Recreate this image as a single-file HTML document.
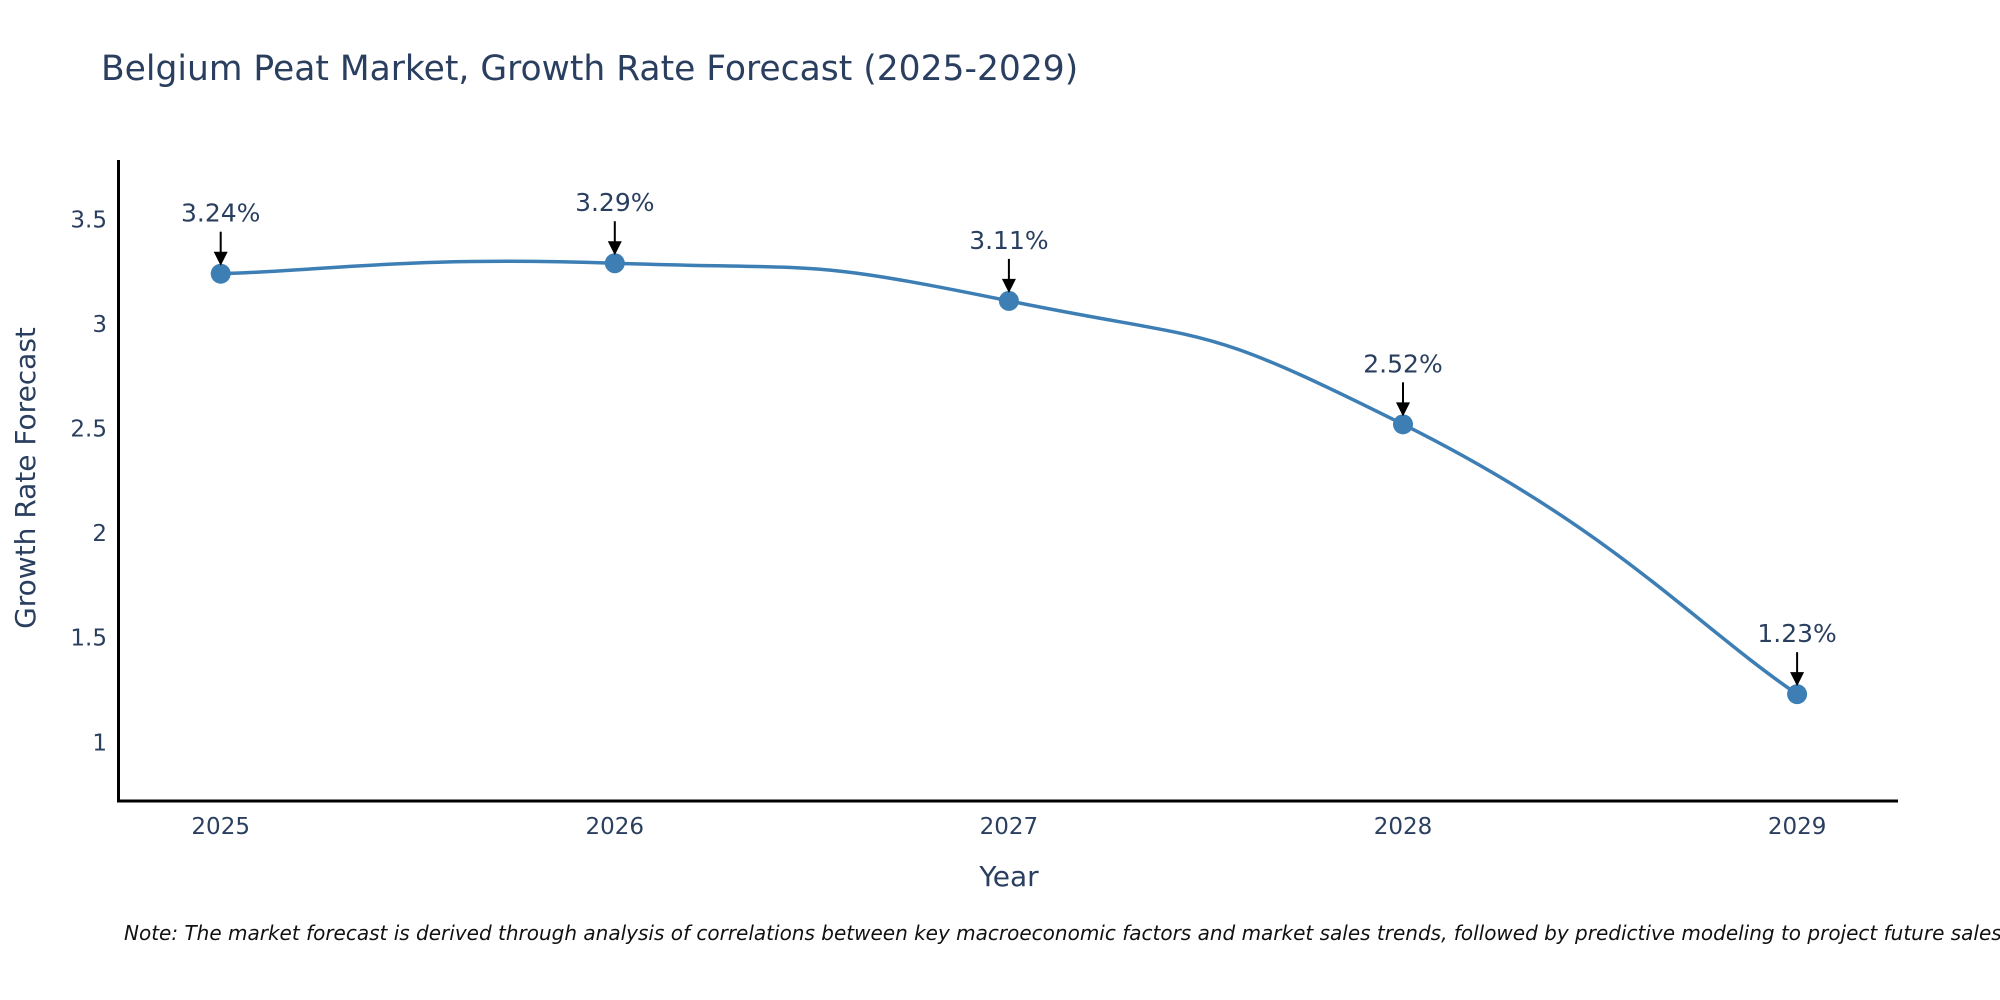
<!DOCTYPE html>
<html><head><meta charset="utf-8"><style>
body{margin:0;background:#fff;overflow:hidden;}
svg{display:block;font-family:"DejaVu Sans","Liberation Sans",sans-serif;}
</style></head><body>
<svg id="chart" width="2000" height="1000" viewBox="0 0 2000 1000">
<text x="101" y="80" font-size="34.5" fill="#2a3f5f">Belgium Peat Market, Growth Rate Forecast (2025-2029)</text>
<g id="yticks"></g>
<g id="xticks"></g>
<line x1="118.5" y1="160" x2="118.5" y2="802" stroke="#000" stroke-width="3"/>
<line x1="117" y1="801" x2="1898" y2="801" stroke="#000" stroke-width="3"/>
<text x="1009" y="886" font-size="28" fill="#2a3f5f" text-anchor="middle">Year</text>
<text transform="translate(35,478) rotate(-90)" font-size="28" fill="#2a3f5f" text-anchor="middle">Growth Rate Forecast</text>
<path id="line" fill="none" stroke="#3d7fb4" stroke-width="3.5"/>
<g id="marks"></g>
<text x="124" y="940" font-size="20" font-style="italic" fill="#111">Note: The market forecast is derived through analysis of correlations between key macroeconomic factors and market sales trends, followed by predictive modeling to project future sales.</text>
</svg>
<script>
const years = [2025, 2026, 2027, 2028, 2029];
const values = [3.24, 3.29, 3.11, 2.52, 1.23];
const yTicks = [1, 1.5, 2, 2.5, 3, 3.5];
const yTickLabels = ["1", "1.5", "2", "2.5", "3", "3.5"];
const NS = "http://www.w3.org/2000/svg";
function xs(v){ return 220.7 + (v - 2025) * 394.1; }
function ys(v){ return 742.3 - (v - 1) * 209.2; }
function mk(tag, attrs, parent, txt){
  const e = document.createElementNS(NS, tag);
  for (const k in attrs) e.setAttribute(k, attrs[k]);
  if (txt !== undefined) e.textContent = txt;
  parent.appendChild(e); return e;
}
const yg = document.getElementById('yticks');
yTicks.forEach((t, i) => {
  const e = mk('text', {x: 107, y: ys(t) + 8, 'font-size': 23, fill: '#2a3f5f', 'text-anchor': 'end'}, yg, yTickLabels[i]);
  
  
});
const xg = document.getElementById('xticks');
years.forEach(y => {
  const e = mk('text', {x: xs(y), y: 834, 'font-size': 23, fill: '#2a3f5f', 'text-anchor': 'middle'}, xg, String(y));
  
  
});
const pts = years.map((y, i) => [xs(y), ys(values[i])]);
let d = 'M' + pts[0][0] + ',' + pts[0][1];
const tension = 0.8;
for (let i = 0; i < pts.length - 1; i++) {
  const p0 = pts[Math.max(0, i - 1)], p1 = pts[i], p2 = pts[i + 1], p3 = pts[Math.min(pts.length - 1, i + 2)];
  const c1 = [p1[0] + (p2[0] - p0[0]) * tension / 3, p1[1] + (p2[1] - p0[1]) * tension / 3];
  const c2 = [p2[0] - (p3[0] - p1[0]) * tension / 3, p2[1] - (p3[1] - p1[1]) * tension / 3];
  d += ' C' + c1.join(',') + ' ' + c2.join(',') + ' ' + p2.join(',');
}
document.getElementById('line').setAttribute('d', d);
const mg = document.getElementById('marks');
pts.forEach((p, i) => {
  const c = mk('circle', {cx: p[0], cy: p[1], r: 10, fill: '#3d7fb4'}, mg);
  
  
  const a = mk('line', {x1: p[0], y1: p[1] - 42, x2: p[0], y2: p[1] - 20, stroke: '#000', 'stroke-width': 2}, mg);
  
  
  const h = mk('polygon', {points: (p[0]-7)+','+(p[1]-22)+' '+(p[0]+7)+','+(p[1]-22)+' '+p[0]+','+(p[1]-8), fill: '#000'}, mg);
  
  
  const t = mk('text', {x: p[0], y: p[1] - 52, 'font-size': 25, fill: '#2a3f5f', 'text-anchor': 'middle'}, mg, values[i].toFixed(2) + '%');
  
  
});
</script>
</body></html>
